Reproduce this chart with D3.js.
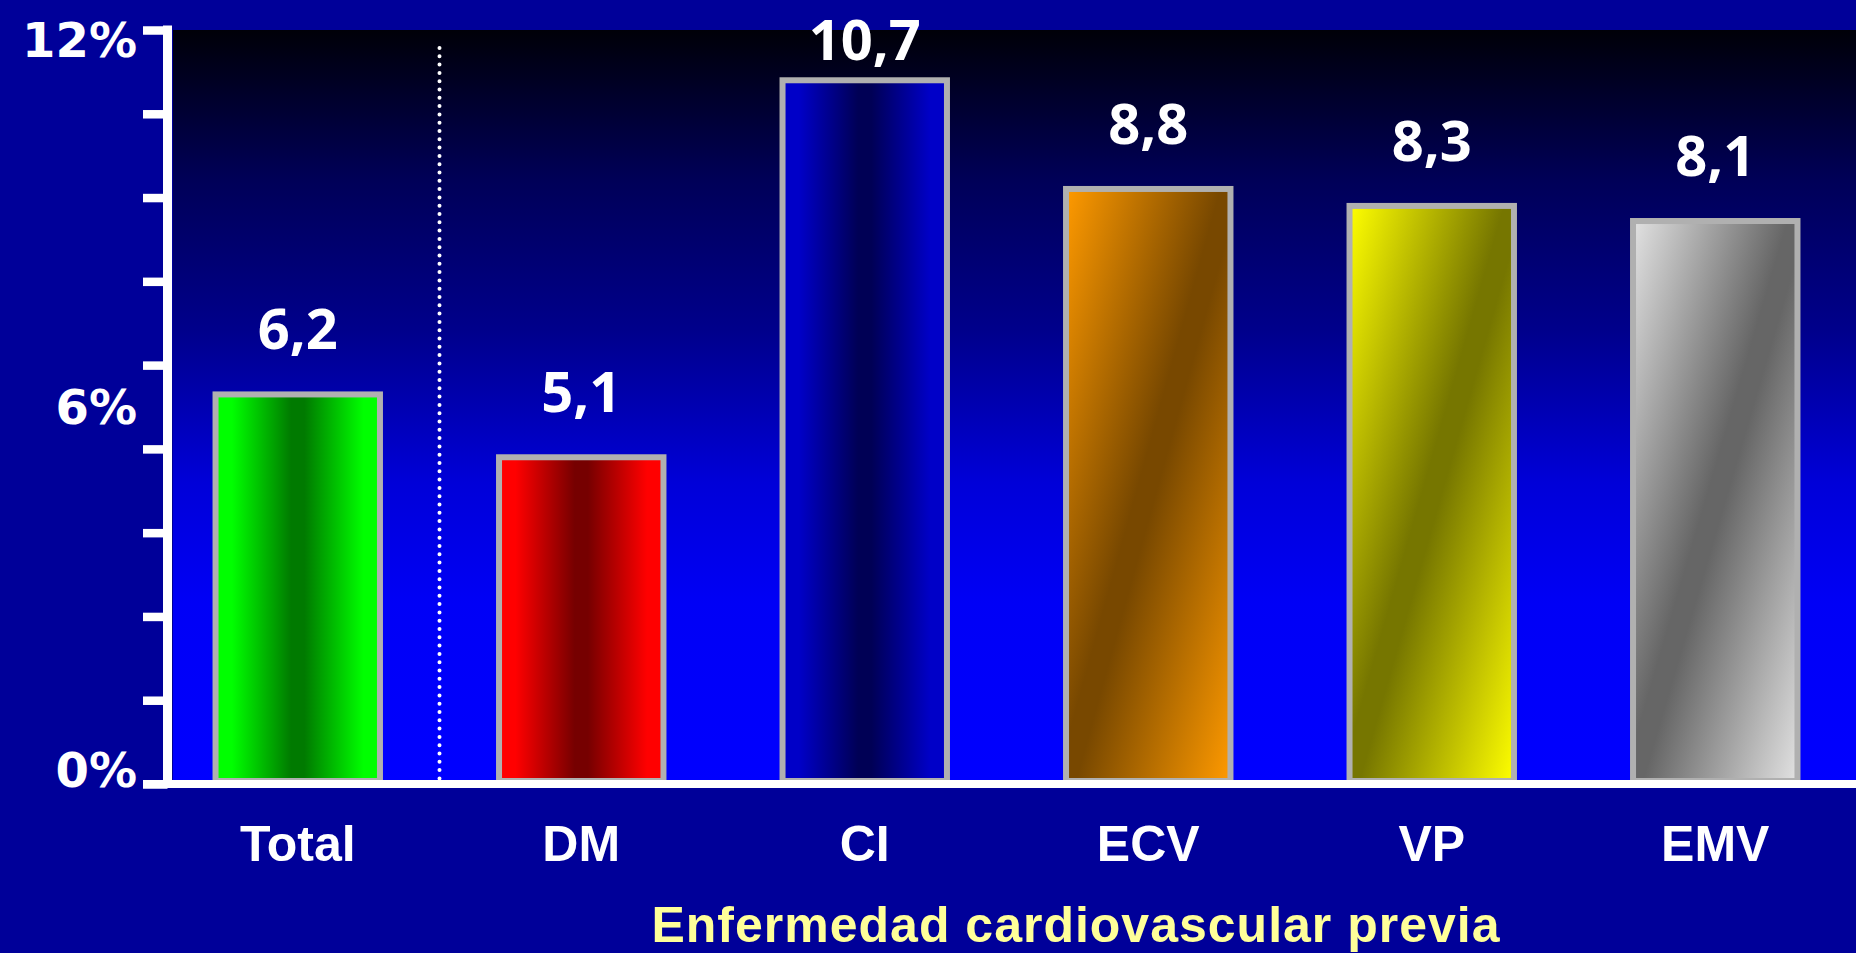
<!DOCTYPE html>
<html><head><meta charset="utf-8">
<script src="https://cdn.jsdelivr.net/npm/d3@7"></script>
<style>html,body{margin:0;padding:0;background:#000099;overflow:hidden}</style>
</head><body>
<svg id="chart" width="1856" height="953"></svg>
<script>
// ---- data ----
const categories = ["Total", "DM", "CI", "ECV", "VP", "EMV"];
const values = [6.2, 5.2, 11.2, 9.47, 9.2, 8.96];          // bar heights as drawn (%)
const valueLabels = ["6,2", "5,1", "10,7", "8,8", "8,3", "8,1"];
const yTickLabelValues = [0, 6, 12];
const yTickLabels = ["0%", "6%", "12%"];
const yMax = 12;
const yTickDivisions = 9;
const xAxisTitle = "Enfermedad cardiovascular previa";

// ---- styles ----
const barStyles = [
  {light: "#00ff00", dark: "#007a00", dir: "h"},
  {light: "#ff0000", dark: "#760000", dir: "h"},
  {light: "#0000c8", dark: "#000055", dir: "h"},
  {light: "#ff9a00", dark: "#784800", dir: "d"},
  {light: "#ffff00", dark: "#767600", dir: "d"},
  {light: "#e2e2e2", dark: "#666666", dir: "d"}
];

const W = 1856, H = 953;
const svg = d3.select("#chart");
const defs = svg.append("defs");

const plotLeft = 173, plotTop = 30, baseY = 784;
const x = d3.scaleBand().domain(categories).range([156, 1857]).paddingInner(0.42).paddingOuter(0.21);
const y = d3.scaleLinear().domain([0, yMax]).range([baseY, plotTop]);

// background gradient of plot area
const bg = defs.append("linearGradient").attr("id", "bgGrad").attr("x1", 0).attr("y1", 0).attr("x2", 0).attr("y2", 1);
[[0, "#000008"], [0.2, "#000058"], [0.4, "#00008c"], [0.6, "#0000d8"], [0.76, "#0000f6"], [1, "#0000ff"]]
  .forEach(([o, c]) => bg.append("stop").attr("offset", o).attr("stop-color", c));

svg.append("rect").attr("x", plotLeft).attr("y", plotTop).attr("width", W - plotLeft).attr("height", baseY - plotTop)
  .attr("fill", "url(#bgGrad)");

// bar gradients
barStyles.forEach((s, i) => {
  const g = defs.append("linearGradient").attr("id", "barGrad" + i)
    .attr("x1", 0).attr("y1", 0).attr("x2", 1).attr("y2", s.dir === "h" ? 0 : 1);
  const stops = s.dir === "h"
    ? [[0, s.light], [0.1, s.light], [0.46, s.dark], [0.54, s.dark], [0.9, s.light], [1, s.light]]
    : [[0, s.light], [0.47, s.dark], [0.53, s.dark], [1, s.light]];
  stops.forEach(([o, c]) => g.append("stop").attr("offset", o).attr("stop-color", c));
});

// dotted separator between Total and DM
const sepX = (x(categories[0]) + x.bandwidth() + x(categories[1])) / 2;
svg.append("line").attr("x1", sepX).attr("x2", sepX).attr("y1", 48).attr("y2", baseY)
  .attr("stroke", "#ffffff").attr("stroke-width", 4).attr("stroke-linecap", "round")
  .attr("stroke-dasharray", "0 8.3");

// bars
svg.append("g").selectAll("rect").data(values).join("rect")
  .attr("x", (d, i) => x(categories[i]))
  .attr("y", d => y(d))
  .attr("width", x.bandwidth())
  .attr("height", d => y(0) - 3 - y(d))
  .attr("fill", (d, i) => "url(#barGrad" + i + ")")
  .attr("stroke", "#b0b0b0").attr("stroke-width", 6);

// value labels
svg.append("g").selectAll("text").data(values).join("text")
  .attr("x", (d, i) => x(categories[i]) + x.bandwidth() / 2)
  .attr("y", d => Math.max(y(d) - 45, 60))
  .attr("text-anchor", "middle")
  .attr("font-family", "'Open Sans', sans-serif").attr("font-weight", 700).attr("font-size", 56)
  .attr("fill", "#ffffff")
  .text((d, i) => valueLabels[i]);

// y axis: line, ticks, labels
const tickVals = d3.range(yTickDivisions + 1).map(k => k * yMax / yTickDivisions);
const axisG = svg.append("g").attr("transform", "translate(167.5,0)");
const yAxis = d3.axisLeft(y).tickValues(tickVals).tickSize(24.5).tickFormat("");
axisG.call(yAxis);
axisG.select(".domain").remove();
axisG.selectAll(".tick line").attr("stroke", "#ffffff").attr("stroke-width", 8.5);
svg.append("line").attr("x1", 167.5).attr("x2", 167.5).attr("y1", y(yMax) - 4.5).attr("y2", baseY + 4)
  .attr("stroke", "#ffffff").attr("stroke-width", 9);

// tick labels kept within the axis extent
svg.append("g").selectAll("text").data(yTickLabelValues).join("text")
  .attr("x", 137).attr("y", d => Math.min(Math.max(y(d), y(yMax) + 10), y(0) - 14)).attr("dy", "0.36em")
  .attr("text-anchor", "end")
  .attr("font-family", "'DejaVu Sans', sans-serif").attr("font-weight", 700).attr("font-size", 48)
  .attr("fill", "#ffffff")
  .text((d, i) => yTickLabels[i]);

// baseline
svg.append("line").attr("x1", 143).attr("x2", W).attr("y1", baseY).attr("y2", baseY)
  .attr("stroke", "#ffffff").attr("stroke-width", 8);

// category labels
svg.append("g").selectAll("text").data(categories).join("text")
  .attr("x", d => x(d) + x.bandwidth() / 2)
  .attr("y", 861)
  .attr("text-anchor", "middle")
  .attr("font-family", "'Liberation Sans', Arial, sans-serif").attr("font-weight", 700).attr("font-size", 50)
  .attr("fill", "#ffffff")
  .text(d => d);

// x axis title
svg.append("text").attr("x", 1076).attr("y", 942).attr("text-anchor", "middle")
  .attr("font-family", "'Liberation Sans', Arial, sans-serif").attr("font-weight", 700).attr("font-size", 50)
  .attr("letter-spacing", 1)
  .attr("fill", "#ffff99")
  .text(xAxisTitle);
</script>
</body></html>
